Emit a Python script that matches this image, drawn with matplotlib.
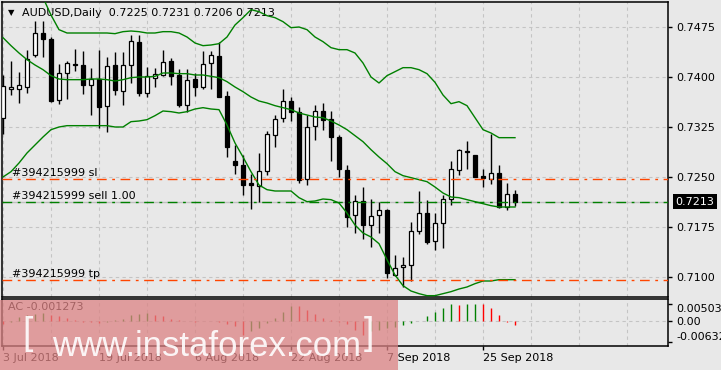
import numpy as np
import matplotlib
matplotlib.use("Agg")
import matplotlib.pyplot as plt
from matplotlib import font_manager
from matplotlib.patches import Rectangle

# daily AUDUSD candles, 3 Jul 2018 .. 1 Oct 2018
opens = [0.73385, 0.73825, 0.73825, 0.73850, 0.74335, 0.74660, 0.74575, 0.73660, 0.74060, 0.74195,
         0.74185, 0.73885, 0.73970, 0.73570, 0.74185, 0.73795, 0.74185, 0.74525, 0.73760, 0.73985,
         0.74035, 0.74245, 0.74035, 0.73585, 0.73970, 0.73850, 0.74210, 0.74320, 0.73720, 0.72745,
         0.72685, 0.72410, 0.72360, 0.72585, 0.73135, 0.73385, 0.73645, 0.73475, 0.72470, 0.73265,
         0.73490, 0.73375, 0.73105, 0.72610, 0.71930, 0.72145, 0.71775, 0.71930, 0.72005, 0.71035,
         0.71150, 0.71185, 0.71685, 0.71955, 0.71545, 0.71810, 0.72170, 0.72605, 0.72895, 0.72835,
         0.72515, 0.72470, 0.72560, 0.72045, 0.72250]
highs = [0.74035, 0.74245, 0.74075, 0.74410, 0.74835, 0.74845, 0.74595, 0.74195, 0.74235, 0.74420,
         0.74385, 0.74135, 0.74410, 0.74295, 0.74375, 0.74375, 0.74635, 0.74625, 0.74150, 0.74135,
         0.74410, 0.74285, 0.74125, 0.74125, 0.74060, 0.74395, 0.74395, 0.74520, 0.73785, 0.72985,
         0.72825, 0.72545, 0.72860, 0.73195, 0.73435, 0.73825, 0.73705, 0.73555, 0.73425, 0.73575,
         0.73610, 0.73495, 0.73135, 0.72685, 0.72235, 0.72355, 0.72175, 0.72120, 0.72020, 0.71325,
         0.71295, 0.71825, 0.72295, 0.72160, 0.71960, 0.72235, 0.72745, 0.72925, 0.73045, 0.72835,
         0.72625, 0.73145, 0.72685, 0.72410, 0.72310]
lows = [0.73145, 0.73735, 0.73610, 0.73760, 0.74295, 0.74295, 0.73625, 0.73595, 0.73675, 0.74085,
        0.73750, 0.73435, 0.73235, 0.73175, 0.73735, 0.73585, 0.73910, 0.73710, 0.73695, 0.73845,
        0.74010, 0.73885, 0.73545, 0.73470, 0.73720, 0.73825, 0.73820, 0.73700, 0.72795, 0.72550,
        0.72235, 0.72020, 0.72125, 0.72525, 0.72945, 0.73325, 0.73335, 0.72405, 0.72375, 0.73060,
        0.73210, 0.72735, 0.72495, 0.71750, 0.71660, 0.71575, 0.71450, 0.71660, 0.70985, 0.71010,
        0.70845, 0.70935, 0.71650, 0.71500, 0.71410, 0.71435, 0.72075, 0.72525, 0.72620, 0.72495,
        0.72345, 0.72400, 0.72035, 0.72010, 0.72060]
closes = [0.73860, 0.73845, 0.73875, 0.74270, 0.74660, 0.74570, 0.73635, 0.74060, 0.74210, 0.74175,
          0.73875, 0.73970, 0.73545, 0.74160, 0.73800, 0.74185, 0.74535, 0.73760, 0.74010, 0.74050,
          0.74225, 0.74020, 0.73575, 0.73960, 0.73845, 0.74195, 0.74335, 0.73700, 0.72945, 0.72675,
          0.72385, 0.72375, 0.72595, 0.73150, 0.73370, 0.73645, 0.73475, 0.72450, 0.73250, 0.73490,
          0.73360, 0.73095, 0.72620, 0.71900, 0.72145, 0.71775, 0.71915, 0.72005, 0.71060, 0.71135,
          0.71185, 0.71685, 0.71955, 0.71520, 0.71805, 0.72170, 0.72620, 0.72905, 0.72870, 0.72495,
          0.72480, 0.72560, 0.72050, 0.72245, 0.72130]

# Bollinger bands as drawn on the chart
bb_upper = [0.7576, 0.7568, 0.7561, 0.7553, 0.7538, 0.7519, 0.7493, 0.7471, 0.7466, 0.7466,
            0.7466, 0.7466, 0.7466, 0.7466, 0.7465, 0.7468, 0.7469, 0.7468, 0.7466, 0.7466,
            0.7468, 0.7468, 0.7466, 0.7460, 0.7451, 0.7447, 0.7448, 0.7450, 0.7460, 0.7478,
            0.7489, 0.7501, 0.7498, 0.7492, 0.7489, 0.7483, 0.7474, 0.7475, 0.7471, 0.7460,
            0.7453, 0.7444, 0.7441, 0.7441, 0.7436, 0.7421, 0.7400, 0.7391, 0.7402, 0.7408,
            0.7414, 0.7414, 0.7411, 0.7405, 0.7392, 0.7373, 0.7360, 0.7363, 0.7357, 0.7339,
            0.7321, 0.7316, 0.7309, 0.7309, 0.7309]
bb_mid = [0.7459, 0.7447, 0.7436, 0.7426, 0.7418, 0.7411, 0.7402, 0.7397, 0.7396, 0.7396,
          0.7396, 0.7397, 0.7397, 0.7396, 0.7394, 0.7396, 0.7399, 0.7400, 0.7400, 0.7401,
          0.7406, 0.7406, 0.7405, 0.7405, 0.7403, 0.7403, 0.7401, 0.7399, 0.7393, 0.7385,
          0.7378, 0.7370, 0.7364, 0.7361, 0.7357, 0.7354, 0.7351, 0.7346, 0.7343, 0.7340,
          0.7339, 0.7334, 0.7328, 0.7321, 0.7312, 0.7303, 0.7291, 0.7280, 0.7270, 0.7258,
          0.7252, 0.7249, 0.7246, 0.7243, 0.7235, 0.7226, 0.7220, 0.7219, 0.7216, 0.7213,
          0.7210, 0.7207, 0.7205, 0.7205, 0.7205]
bb_lower = [0.7250, 0.7258, 0.7271, 0.7286, 0.7298, 0.7310, 0.7321, 0.7325, 0.7327, 0.7327,
            0.7327, 0.7327, 0.7327, 0.7327, 0.7325, 0.7325, 0.7333, 0.7334, 0.7336, 0.7342,
            0.7349, 0.7348, 0.7346, 0.7348, 0.7352, 0.7354, 0.7352, 0.7351, 0.7328, 0.7301,
            0.7280, 0.7258, 0.7238, 0.7231, 0.7229, 0.7229, 0.7229, 0.7219, 0.7213, 0.7214,
            0.7217, 0.7216, 0.7211, 0.7196, 0.7178, 0.7166, 0.7160, 0.7150, 0.7126, 0.7103,
            0.7087, 0.7079, 0.7075, 0.7072, 0.7072, 0.7075, 0.7078, 0.7082, 0.7085, 0.7090,
            0.7094, 0.7094, 0.7096, 0.7096, 0.7096]

# Accelerator oscillator
ac_values = [-0.0008, -0.0003, 0.0012, 0.0017, 0.0022, 0.0024, 0.0019, 0.0014, 0.0010, 0.0004,
             -0.0002, -0.0004, -0.0005, -0.0002, 0.0002, 0.0007, 0.0017, 0.0020, 0.0023, 0.0017,
             0.0016, 0.0007, 0.0003, 0.0001, -0.0002, -0.0001, 0.0000, -0.0004, -0.0008, -0.0015,
             -0.0040, -0.0030, -0.0020, -0.0005, 0.0010, 0.0027, 0.0044, 0.0043, 0.0032, 0.0020,
             0.0010, 0.0004, -0.0002, -0.0010, -0.0026, -0.0042, -0.0030, -0.0028, -0.0020, -0.0018,
             -0.0012, -0.0005, 0.0000, 0.0014, 0.0027, 0.0039, 0.0049, 0.0048, 0.0049, 0.0050,
             0.0049, 0.0039, 0.0017, -0.0002, -0.0013]

xtick_pos = [0, 12, 24, 36, 48, 60]
xtick_labels = ['3 Jul 2018', '19 Jul 2018', '6 Aug 2018', '22 Aug 2018', '7 Sep 2018', '25 Sep 2018']
price_ticks = [0.7475, 0.7400, 0.7325, 0.7250, 0.7175, 0.7100]
ac_ticks = [0.005031, 0.0, -0.00632]
ac_tick_labels = ['0.005031', '0.00', '-0.00632']

sl_level = 0.72465
sell_level = 0.72120
tp_level = 0.70955
bid = 0.7213
order_id = '#394215999'
header = 'AUDUSD,Daily  0.7225 0.7231 0.7206 0.7213'
ac_label = 'AC -0.001273'

BG = '#e8e8e8'
GRID = '#c4c4c4'
W, H = 721, 370

plt.rcParams['font.family'] = 'DejaVu Sans'
plt.rcParams['font.size'] = 8


def px_rect(x0, y0, x1, y1):
    return [x0 / W, 1 - y1 / H, (x1 - x0) / W, (y1 - y0) / H]


fig = plt.figure(figsize=(W / 100, H / 100), dpi=100, facecolor=BG)
ax = fig.add_axes(px_rect(2, 2, 668, 297), facecolor=BG)
ax_ac = fig.add_axes(px_rect(2, 299, 668, 346), facecolor=BG)

n = len(closes)
idx = np.arange(n)
xmin, xmax = -0.125, 83.125

for a in (ax, ax_ac):
    a.set_xlim(xmin, xmax)
    for gx in range(0, 84, 6):
        a.axvline(gx, color=GRID, lw=0.8, ls=(0, (3, 3)), zorder=0)
    for s in a.spines.values():
        s.set_color('black')
        s.set_linewidth(1.1)

# main price panel
ax.set_ylim(0.70700, 0.75125)
for p in price_ticks:
    ax.axhline(p, color=GRID, lw=0.8, ls=(0, (3, 3)), zorder=0)

o = np.array(opens)
c = np.array(closes)
up = c >= o
ax.vlines(idx, lows, highs, color='black', lw=1.0, zorder=2)
body_lo = np.minimum(o, c)
body_h = np.maximum(np.abs(c - o), 0.00008)
ax.bar(idx[up], body_h[up], bottom=body_lo[up], width=0.62, color='white',
       edgecolor='black', linewidth=0.9, zorder=3)
ax.bar(idx[~up], body_h[~up], bottom=body_lo[~up], width=0.62, color='black',
       edgecolor='black', linewidth=0.9, zorder=3)

for band in (bb_upper, bb_mid, bb_lower):
    ax.plot(idx, band, color='#008000', lw=1.0, zorder=4)

ax.axhline(bid, color='#c0c0c0', lw=1.0, zorder=1)
ax.axhline(sl_level, color='#ff4500', lw=1.0, ls=(0, (7, 4, 2, 4)), zorder=5)
ax.axhline(tp_level, color='#ff4500', lw=1.0, ls=(0, (7, 4, 2, 4)), zorder=5)
ax.axhline(sell_level, color='#008000', lw=1.0, ls=(0, (7, 4, 2, 4)), zorder=5)
for lvl, txt in ((sl_level, order_id + ' sl'), (sell_level, order_id + ' sell 1.00'),
                 (tp_level, order_id + ' tp')):
    ax.text(1.1, lvl + 0.0002, txt, ha='left', va='bottom', fontsize=8, color='black', zorder=6)

ax.set_xticks([])
ax.yaxis.tick_right()
ax.set_yticks(price_ticks)
ax.set_yticklabels([f'{p:.4f}' for p in price_ticks])
ax.tick_params(axis='y', direction='out', length=3, width=1, pad=3, labelsize=8, colors='black')

ax.text(1.0115, bid, f'{bid:.4f}', transform=ax.get_yaxis_transform(), ha='left', va='center',
        fontsize=8, color='white', clip_on=False, zorder=10,
        bbox=dict(facecolor='black', edgecolor='none', pad=1.8))

fig.text(8 / W, 1 - 13 / H, '\u25bc', fontsize=6, ha='left', va='center', color='black')
ax.text(20 / 666, 1 - 11 / 295, header, transform=ax.transAxes, ha='left', va='center',
        fontsize=8, color='black')

# AC panel
ax_ac.set_ylim(-0.0074, 0.0065)
ax_ac.axhline(0, color=GRID, lw=0.8, ls=(0, (3, 3)), zorder=0)
ac = np.array(ac_values)
ac_cols = ['#ff0000'] + ['#008000' if ac[i] > ac[i - 1] else '#ff0000' for i in range(1, n)]
ax_ac.vlines(idx, 0, ac, colors=ac_cols, lw=1.0, zorder=2)
ax_ac.text(6 / 666, 0.82, ac_label, transform=ax_ac.transAxes, ha='left', va='center',
           fontsize=8, color='black')

ax_ac.yaxis.tick_right()
ax_ac.set_yticks(ac_ticks)
ax_ac.set_yticklabels(ac_tick_labels)
ax_ac.tick_params(axis='y', direction='out', length=3, width=1, pad=3, labelsize=8)
yl = ax_ac.get_yticklabels()
yl[0].set_va('top')
yl[2].set_va('bottom')
ax_ac.set_xticks(xtick_pos)
ax_ac.set_xticklabels(xtick_labels, ha='left')
ax_ac.tick_params(axis='x', direction='out', length=3, width=1, pad=2, labelsize=8)

# watermark
fig.add_artist(Rectangle((0, 0), 398 / W, 70 / H, transform=fig.transFigure,
                         facecolor='#dc8384', edgecolor='none', alpha=0.75, zorder=20))
names = {f.name for f in font_manager.fontManager.ttflist}
if 'Liberation Sans Narrow' in names:
    wm_family, wm_size = 'Liberation Sans Narrow', 30
else:
    wm_family, wm_size = 'Liberation Sans', 25
fig.text(52 / W, 1 - 356 / H, 'www.instaforex.com', fontsize=wm_size, family=wm_family,
         color='white', alpha=0.9, ha='left', va='baseline', zorder=21)
fig.text(22 / W, 1 - 344 / H, '[', fontsize=27, family='Liberation Sans', color='white',
         alpha=0.9, ha='left', va='baseline', zorder=21)
fig.text(364 / W, 1 - 344 / H, ']', fontsize=27, family='Liberation Sans', color='white',
         alpha=0.9, ha='left', va='baseline', zorder=21)

fig.savefig('out.png', dpi=100, facecolor=BG)
